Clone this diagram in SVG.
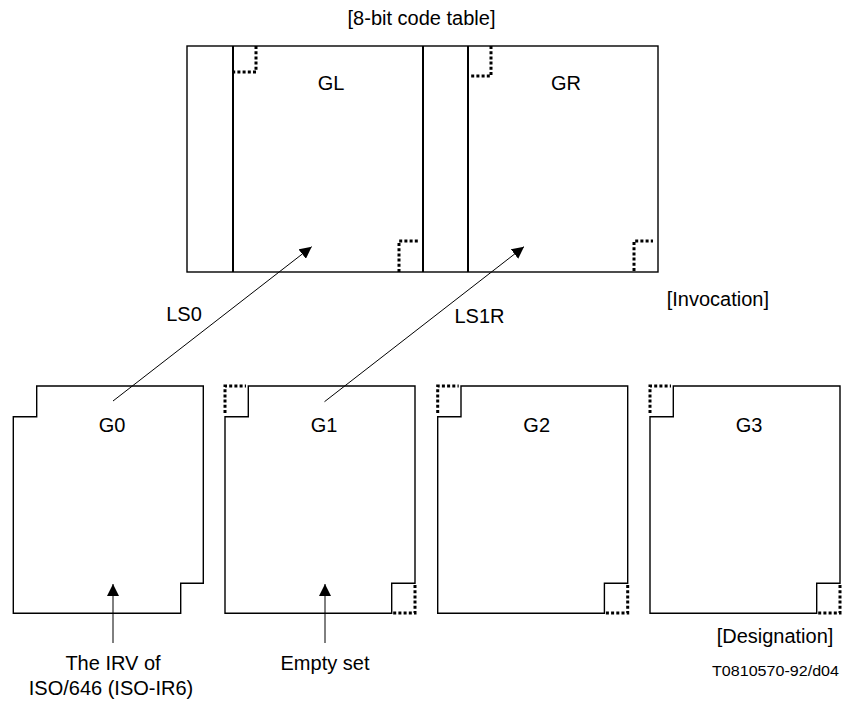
<svg xmlns="http://www.w3.org/2000/svg" width="844" height="704" viewBox="0 0 844 704">
<style>
text{font-family:"Liberation Sans",Arial,sans-serif;font-size:20px;fill:#000}
.c{text-anchor:middle}
.thin{fill:none;stroke:#000;stroke-width:1.4}
.thick{fill:none;stroke:#000;stroke-width:2}
.dot{fill:none;stroke:#000;stroke-width:3;stroke-dasharray:3 2.2}
.conn{fill:none;stroke:#000;stroke-width:1}
</style>
<defs>
<marker id="ah" markerWidth="12" markerHeight="12" refX="12" refY="6" orient="auto" markerUnits="userSpaceOnUse">
<path d="M0,0 L12,6 L0,12 Z" fill="#000"/>
</marker>
</defs>
<rect width="844" height="704" fill="#fff"/>
<text class="c" x="421.5" y="25">[8-bit code table]</text>
<g id="table">
<rect class="thin" x="187" y="46" width="471" height="226"/>
<line class="thick" x1="233" y1="46" x2="233" y2="272"/>
<line class="thick" x1="423" y1="46" x2="423" y2="272"/>
<line class="thick" x1="468" y1="46" x2="468" y2="272"/>
<path class="dot" d="M256,46 V72 H233"/>
<path class="dot" d="M399,272 V241 H418"/>
<path class="dot" d="M491,46 V76 H468"/>
<path class="dot" d="M634,271 V241 H653"/>
<text class="c" x="331" y="90">GL</text>
<text class="c" x="566" y="90">GR</text>
</g>
<g id="G0">
<path class="thin" d="M36.7,386 H203.3 V583.3 H180.7 V613.3 H13.3 V416.7 H36.7 Z"/>
<text class="c" x="112" y="432">G0</text>
</g>
<g id="G1">
<path class="thin" d="M248.3,386 H415 V583.3 H391.7 V613.3 H225 V416.7 H248.3 Z"/>
<path class="dot" d="M225,413 V386 H246"/>
<path class="dot" d="M415,585 V613 H393"/>
<text class="c" x="324" y="432">G1</text>
</g>
<g id="G2">
<path class="thin" d="M461,386 H627.7 V583.3 H604.4 V613.3 H437.7 V416.7 H461 Z"/>
<path class="dot" d="M437.7,413 V386 H458.7"/>
<path class="dot" d="M627.7,585 V613 H605.7"/>
<text class="c" x="536.7" y="432">G2</text>
</g>
<g id="G3">
<path class="thin" d="M673.3,386 H840 V583.3 H816.7 V613.3 H650 V416.7 H673.3 Z"/>
<path class="dot" d="M650,413 V386 H671"/>
<path class="dot" d="M840,585 V613 H818"/>
<text class="c" x="749" y="432">G3</text>
</g>
<g id="connectors">
<line class="conn" x1="113" y1="401" x2="311.7" y2="246.7" marker-end="url(#ah)"/>
<line class="conn" x1="324.5" y1="401.7" x2="524" y2="246.7" marker-end="url(#ah)"/>
<line class="conn" x1="113" y1="643" x2="113" y2="584" marker-end="url(#ah)"/>
<line class="conn" x1="325" y1="643" x2="325" y2="584" marker-end="url(#ah)"/>
</g>
<text class="c" x="184" y="321">LS0</text>
<text class="c" x="479.5" y="323">LS1R</text>
<text x="666.7" y="306">[Invocation]</text>
<text class="c" x="775" y="643">[Designation]</text>
<text class="c" x="113" y="670">The IRV of</text>
<text class="c" x="111" y="695">ISO/646 (ISO-IR6)</text>
<text class="c" x="325" y="670">Empty set</text>
<text x="712" y="676" font-size="14" textLength="127" lengthAdjust="spacingAndGlyphs" style="font-size:14px">T0810570-92/d04</text>
</svg>
